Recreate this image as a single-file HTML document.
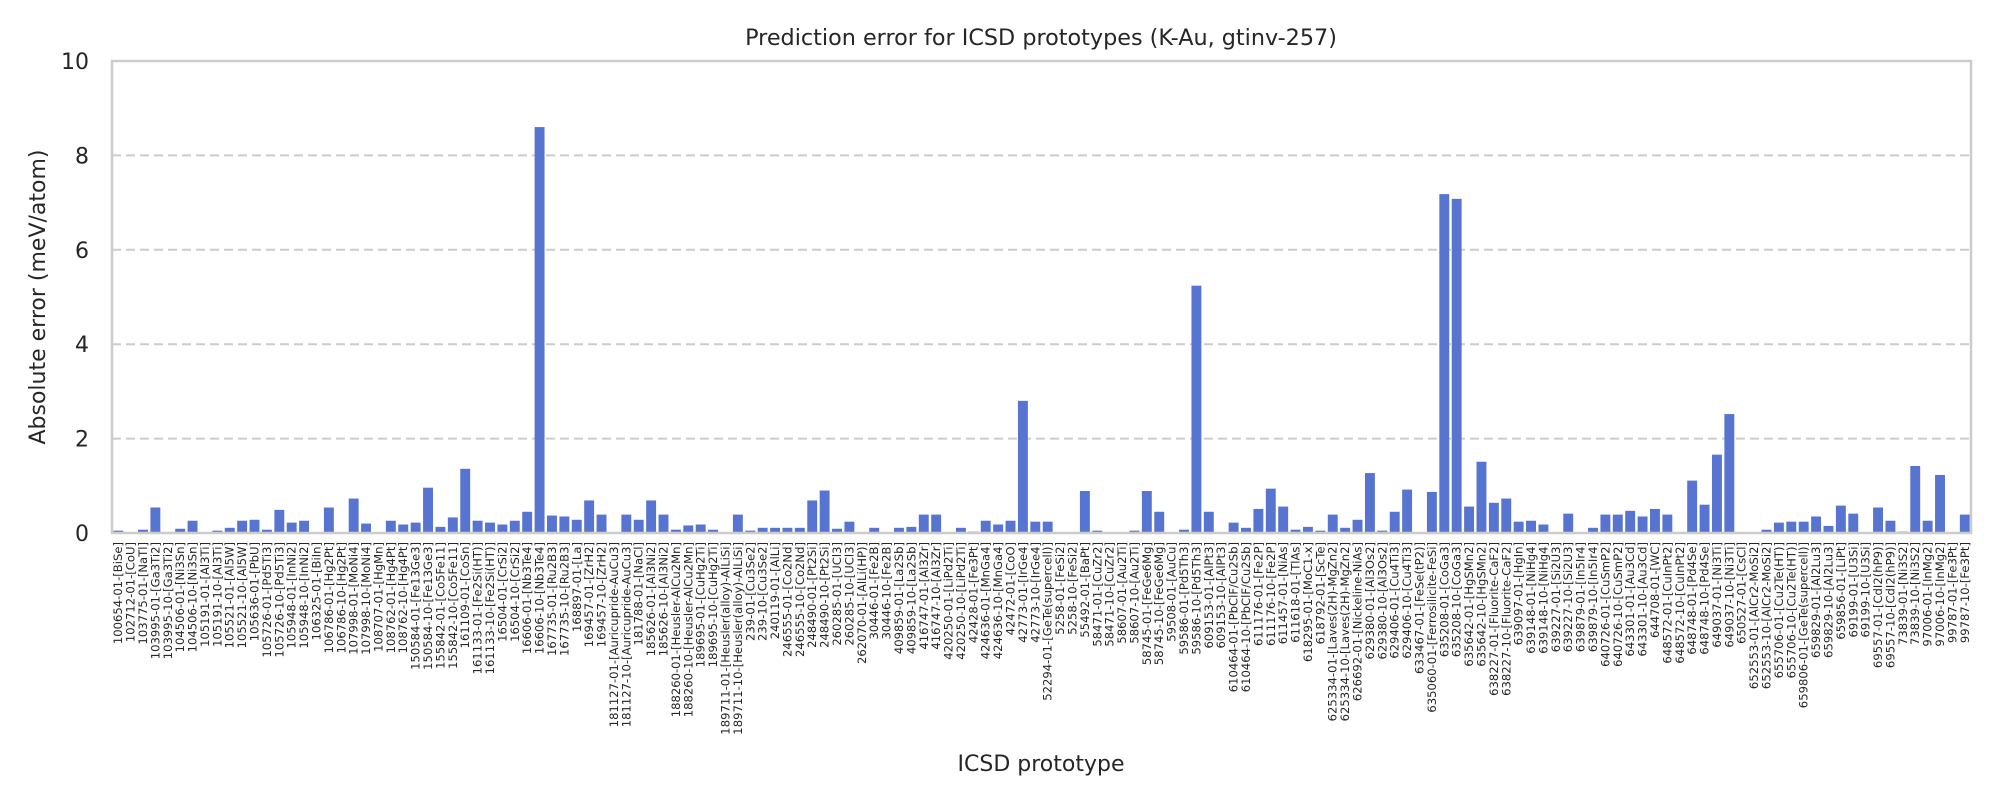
<!DOCTYPE html>
<html><head><meta charset="utf-8"><style>
html,body{margin:0;padding:0;background:#fff;}
svg{display:block;font-family:"DejaVu Sans","Liberation Sans",sans-serif;}
</style></head><body>
<svg id="chart" width="2000" height="800" viewBox="0 0 2000 800" xmlns="http://www.w3.org/2000/svg">
<rect width="2000" height="800" fill="#fff"/>
<text x="1041" y="45" text-anchor="middle" font-size="22.3" fill="#262626">Prediction error for ICSD prototypes (K-Au, gtinv-257)</text>
<g id="grid"></g><g id="bars"></g><g id="yticks"></g><g id="xticks"></g>
<rect x="112" y="61" width="1859" height="472" fill="none" stroke="#cccccc" stroke-width="2.5"/>
<text transform="translate(45,297) rotate(-90)" text-anchor="middle" font-size="22" fill="#262626">Absolute error (meV/atom)</text>
<text x="1041" y="771" text-anchor="middle" font-size="22" fill="#262626">ICSD prototype</text>
</svg>
<script>
const categories = ["100654-01-[BiSe]","102712-01-[CoU]","103775-01-[NaTl]","103995-01-[Ga3Ti2]","103995-10-[Ga3Ti2]","104506-01-[Ni3Sn]","104506-10-[Ni3Sn]","105191-01-[Al3Ti]","105191-10-[Al3Ti]","105521-01-[Al5W]","105521-10-[Al5W]","105636-01-[PbU]","105726-01-[Pd5Ti3]","105726-10-[Pd5Ti3]","105948-01-[InNi2]","105948-10-[InNi2]","106325-01-[BiIn]","106786-01-[Hg2Pt]","106786-10-[Hg2Pt]","107998-01-[MoNi4]","107998-10-[MoNi4]","108707-01-[HgMn]","108762-01-[Hg4Pt]","108762-10-[Hg4Pt]","150584-01-[Fe13Ge3]","150584-10-[Fe13Ge3]","155842-01-[Co5Fe11]","155842-10-[Co5Fe11]","161109-01-[CoSn]","161133-01-[Fe2Si(HT)]","161133-10-[Fe2Si(HT)]","16504-01-[CrSi2]","16504-10-[CrSi2]","16606-01-[Nb3Te4]","16606-10-[Nb3Te4]","167735-01-[Ru2B3]","167735-10-[Ru2B3]","168897-01-[La]","169457-01-[ZrH2]","169457-10-[ZrH2]","181127-01-[Auricupride-AuCu3]","181127-10-[Auricupride-AuCu3]","181788-01-[NaCl]","185626-01-[Al3Ni2]","185626-10-[Al3Ni2]","188260-01-[Heusler-AlCu2Mn]","188260-10-[Heusler-AlCu2Mn]","189695-01-[CuHg2Ti]","189695-10-[CuHg2Ti]","189711-01-[Heusler(alloy)-AlLiSi]","189711-10-[Heusler(alloy)-AlLiSi]","239-01-[Cu3Se2]","239-10-[Cu3Se2]","240119-01-[AlLi]","246555-01-[Co2Nd]","246555-10-[Co2Nd]","248490-01-[Pt2Si]","248490-10-[Pt2Si]","260285-01-[UCl3]","260285-10-[UCl3]","262070-01-[AlLi(HP)]","30446-01-[Fe2B]","30446-10-[Fe2B]","409859-01-[La2Sb]","409859-10-[La2Sb]","416747-01-[Al3Zr]","416747-10-[Al3Zr]","420250-01-[LiPd2Ti]","420250-10-[LiPd2Ti]","42428-01-[Fe3Pt]","424636-01-[MnGa4]","424636-10-[MnGa4]","42472-01-[CoO]","42773-01-[IrGe4]","42773-10-[IrGe4]","52294-01-[GeTe(supercell)]","5258-01-[FeSi2]","5258-10-[FeSi2]","55492-01-[BaPt]","58471-01-[CuZr2]","58471-10-[CuZr2]","58607-01-[Au2Ti]","58607-10-[Au2Ti]","58745-01-[FeGe6Mg]","58745-10-[FeGe6Mg]","59508-01-[AuCu]","59586-01-[Pd5Th3]","59586-10-[Pd5Th3]","609153-01-[AlPt3]","609153-10-[AlPt3]","610464-01-[PbClF/Cu2Sb]","610464-10-[PbClF/Cu2Sb]","611176-01-[Fe2P]","611176-10-[Fe2P]","611457-01-[NiAs]","611618-01-[TlAs]","618295-01-[MoC1-x]","618792-01-[ScTe]","625334-01-[Laves(2H)-MgZn2]","625334-10-[Laves(2H)-MgZn2]","626692-01-[Nickeline-NiAs]","629380-01-[Al3Os2]","629380-10-[Al3Os2]","629406-01-[Cu4Ti3]","629406-10-[Cu4Ti3]","633467-01-[FeSe(tP2)]","635060-01-[Ferrosilicite-FeSi]","635208-01-[CoGa3]","635208-10-[CoGa3]","635642-01-[HgSMn2]","635642-10-[HgSMn2]","638227-01-[Fluorite-CaF2]","638227-10-[Fluorite-CaF2]","639097-01-[HgIn]","639148-01-[NiHg4]","639148-10-[NiHg4]","639227-01-[Si2U3]","639227-10-[Si2U3]","639879-01-[In5Ir4]","639879-10-[In5Ir4]","640726-01-[CuSmP2]","640726-10-[CuSmP2]","643301-01-[Au3Cd]","643301-10-[Au3Cd]","644708-01-[WC]","648572-01-[CuInPt2]","648572-10-[CuInPt2]","648748-01-[Pd4Se]","648748-10-[Pd4Se]","649037-01-[Ni3Ti]","649037-10-[Ni3Ti]","650527-01-[CsCl]","652553-01-[AlCr2-MoSi2]","652553-10-[AlCr2-MoSi2]","655706-01-[Cu2Te(HT)]","655706-10-[Cu2Te(HT)]","659806-01-[GeTe(supercell)]","659829-01-[Al2Lu3]","659829-10-[Al2Lu3]","659856-01-[LiPt]","69199-01-[U3Si]","69199-10-[U3Si]","69557-01-[CdI2(hP9)]","69557-10-[CdI2(hP9)]","73839-01-[Ni3S2]","73839-10-[Ni3S2]","97006-01-[InMg2]","97006-10-[InMg2]","99787-01-[Fe3Pt]","99787-10-[Fe3Pt]"];
const values = [0.05,0,0.07,0.54,0.02,0.09,0.26,0,0.05,0.11,0.26,0.28,0.07,0.49,0.22,0.26,0,0.54,0,0.73,0.2,0,0.26,0.18,0.22,0.96,0.13,0.33,1.36,0.26,0.22,0.18,0.26,0.45,8.6,0.37,0.35,0.28,0.69,0.39,0,0.39,0.28,0.69,0.39,0.07,0.16,0.18,0.07,0,0.39,0.05,0.11,0.11,0.11,0.11,0.69,0.9,0.09,0.24,0,0.11,0,0.11,0.13,0.39,0.39,0,0.11,0.03,0.26,0.18,0.26,2.8,0.24,0.24,0,0,0.89,0.05,0,0,0.05,0.89,0.45,0,0.07,5.24,0.45,0,0.22,0.11,0.51,0.94,0.56,0.07,0.13,0.05,0.39,0.11,0.28,1.27,0.05,0.45,0.92,0,0.87,7.18,7.08,0.56,1.51,0.64,0.73,0.24,0.26,0.18,0,0.41,0,0.11,0.39,0.39,0.47,0.35,0.51,0.39,0,1.11,0.6,1.66,2.52,0,0,0.07,0.22,0.24,0.24,0.35,0.15,0.58,0.41,0,0.54,0.26,0.03,1.42,0.26,1.23,0,0.39];
const yTicks = [0,2,4,6,8,10];

const NS = "http://www.w3.org/2000/svg";
const L = 112, R = 1971, T = 61, B = 533, yMax = 10;
const n = categories.length, band = (R - L) / n;
const xScale = i => L + band * (i + 0.5);
const yScale = v => B - (v / yMax) * (B - T);
function mk(tag, attrs, parent) { const e = document.createElementNS(NS, tag); for (const k in attrs) e.setAttribute(k, attrs[k]); parent.appendChild(e); return e; }

const grid = document.getElementById('grid'), yt = document.getElementById('yticks');
yTicks.forEach(t => {
  const y = yScale(t);
  if (t > 0 && t < yMax) {
    const g = mk('line', {x1: L, x2: R, y1: y, y2: y, stroke: '#cccccc', 'stroke-width': 2, 'stroke-dasharray': '9,5'}, grid);
    
    
  }
  const tx = mk('text', {x: 89, y: y + 8, 'text-anchor': 'end', 'font-size': 22, fill: '#262626'}, yt);
  tx.textContent = t;
  
  
});

const bars = document.getElementById('bars'), xt = document.getElementById('xticks');
categories.forEach((c, i) => {
  const v = values[i], w = band * 0.8, x = xScale(i) - w / 2, y = yScale(v);
  const r = mk('rect', {x: x, y: y, width: w, height: Math.max(0, B - y), fill: '#5874d1'}, bars);
  
  
  const tx = mk('text', {transform: `translate(${xScale(i) + 4},542) rotate(-90)`, 'text-anchor': 'end', 'font-size': 11.6, fill: '#262626'}, xt);
  tx.textContent = c;
  
  
});
</script>
</body></html>
